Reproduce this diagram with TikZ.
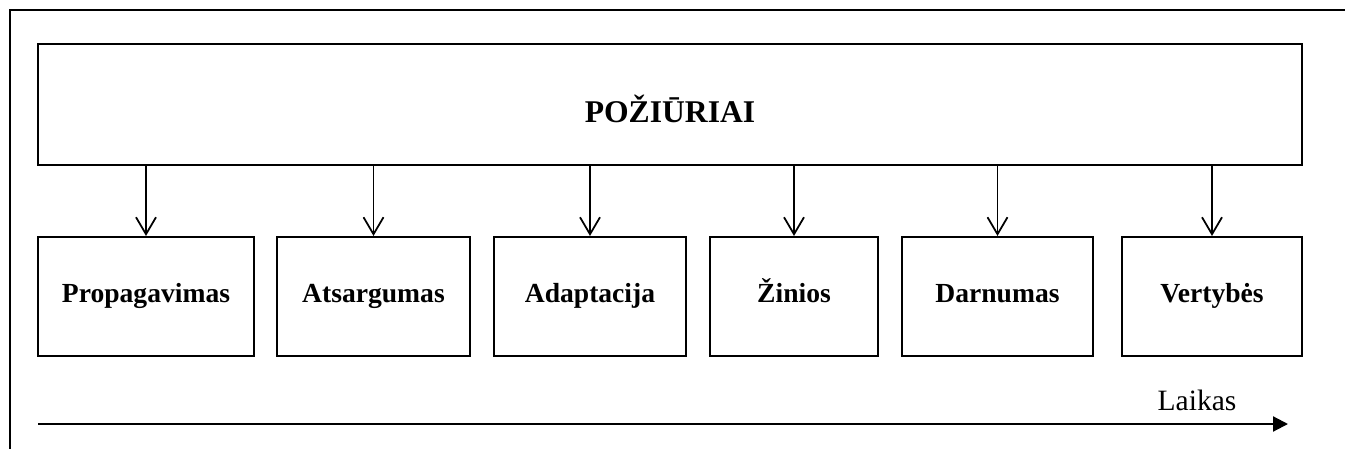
\documentclass[tikz,border=0pt]{standalone}
\usepackage{fontspec}
\setmainfont{Liberation Serif}
\usetikzlibrary{arrows.meta,positioning}
\tikzset{
  mainbox/.style={draw, line width=1.2pt, minimum width=25.28cm, minimum height=2.42cm, inner sep=0pt, text height=0.84cm, text depth=0.1cm, font=\fontsize{18}{22}\selectfont\bfseries},
  stagebox/.style={draw, line width=1.2pt, minimum height=2.38cm, inner sep=0pt, text height=0.4cm, text depth=0.14cm, font=\fontsize{15.7}{19}\selectfont\bfseries},
  downarrow/.style={line width=1pt, -{Straight Barb[length=3.4mm,width=4mm]}},
  timearrow/.style={line width=1.2pt, -{Triangle[length=3mm,width=3mm]}}
}
\begin{document}
\begin{tikzpicture}[x=0.02cm, y=-0.02cm]
\useasboundingbox (0,0) rectangle (1345,449);
% Frame
\draw[line width=0.6pt] (1345,10) -- (10,10) -- (10,449);

% Main box
\node[mainbox] (main) at (670,104.5) {POŽIŪRIAI};

% Stages
\node[stagebox, minimum width=4.32cm] (prop) at (146,296.5) {Propagavimas};
\node[stagebox, minimum width=3.86cm] (atsa) at (373.5,296.5) {Atsargumas};
\node[stagebox, minimum width=3.84cm] (adap) at (590,296.5) {Adaptacija};
\node[stagebox, minimum width=3.36cm] (zini) at (794,296.5) {Žinios};
\node[stagebox, minimum width=3.82cm] (darn) at (997.5,296.5) {Darnumas};
\node[stagebox, minimum width=3.60cm] (vert) at (1212,296.5) {Vertybės};

% Arrows
\draw[downarrow] (prop.north |- main.south) -- (prop.north);
\draw[downarrow] (atsa.north |- main.south) -- (atsa.north);
\draw[downarrow] (adap.north |- main.south) -- (adap.north);
\draw[downarrow] (zini.north |- main.south) -- (zini.north);
\draw[downarrow] (darn.north |- main.south) -- (darn.north);
\draw[downarrow] (vert.north |- main.south) -- (vert.north);

% Time axis
\coordinate (tstart) at (38,424);
\coordinate (tend) at (1288,424);
\draw[timearrow] (tstart) -- (tend);
\node[font=\fontsize{16.8}{20}\selectfont, anchor=base] (laikas) at (1197,410) {Laikas};
\end{tikzpicture}
\end{document}
